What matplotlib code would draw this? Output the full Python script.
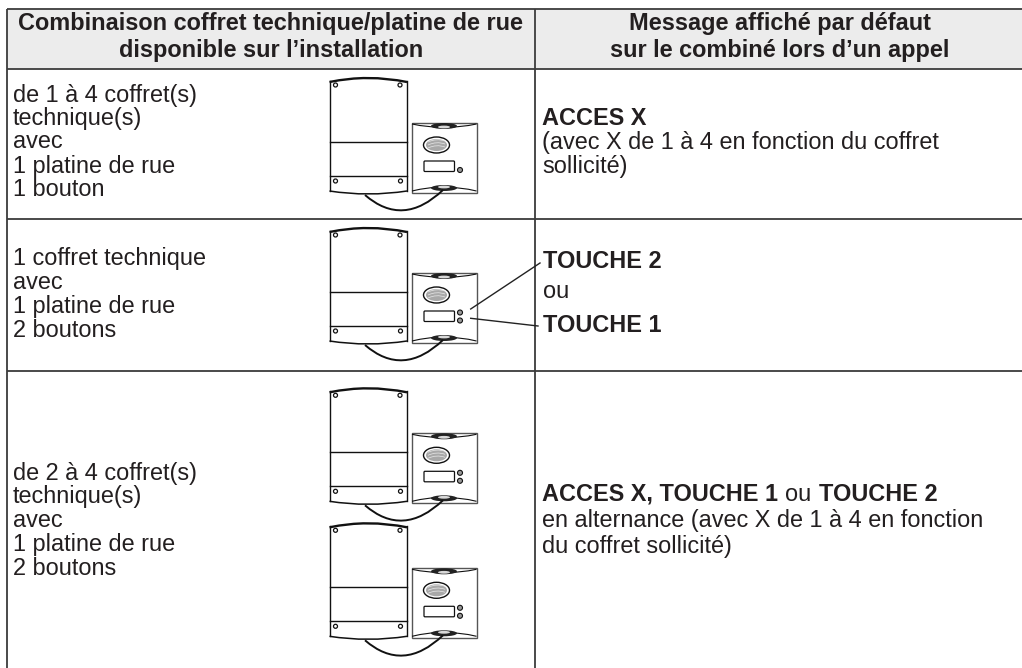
import matplotlib
matplotlib.use("Agg")
import matplotlib.pyplot as plt
from matplotlib.patches import Ellipse, Circle, Rectangle, PathPatch, FancyBboxPatch
from matplotlib.path import Path

headers_left = ["Combinaison coffret technique/platine de rue", "disponible sur l\u2019installation"]
headers_right = ["Message affich\u00e9 par d\u00e9faut", "sur le combin\u00e9 lors d\u2019un appel"]
row1_left = ["de 1 \u00e0 4 coffret(s)", "technique(s)", "avec", "1 platine de rue", "1 bouton"]
row2_left = ["1 coffret technique", "avec", "1 platine de rue", "2 boutons"]
row3_left = ["de 2 \u00e0 4 coffret(s)", "technique(s)", "avec", "1 platine de rue", "2 boutons"]
row1_y = [101.7, 125, 148.5, 172.5, 196]
row2_y = [265, 289, 312.7, 336.7]
row3_y = [480, 503.5, 527, 551, 575]
device_offsets = [0, 150, 310.3, 445.3]
device_buttons = [1, 2, 2, 2]

TXT = "#231f20"
LINE = "#3c3c3c"
plt.rcParams["font.family"] = ["Liberation Sans", "DejaVu Sans"]
FS = 16.9

fig = plt.figure(figsize=(10.22, 6.68), dpi=100)
ax = fig.add_axes([0, 0, 1, 1])
ax.set_xlim(0, 1022)
ax.set_ylim(668, 0)
ax.axis("off")

ax.add_patch(Rectangle((6.5, 8.5), 1015.5, 60, fc="#ececec", ec="none"))
for y in (8.5, 68.5, 219, 370.7):
    ax.plot([6.5, 1022], [y, y], color=LINE, lw=1.3, solid_capstyle="butt")
for x in (6.5, 535):
    ax.plot([x, x], [8.5, 668], color=LINE, lw=1.3, solid_capstyle="butt")


def curve(p0, c, p1, lw=1.0, color="#111111"):
    ax.add_patch(PathPatch(Path([p0, c, p1], [Path.MOVETO, Path.CURVE3, Path.CURVE3]),
                           fc="none", ec=color, lw=lw))


def device(dy, buttons):
    k = "#111111"
    # coffret
    ax.plot([329.5, 329.5], [81 + dy, 191 + dy], color=k, lw=1.0)
    ax.plot([407, 407], [81 + dy, 191 + dy], color=k, lw=1.0)
    curve((329.5, 82 + dy), (368, 74 + dy), (407, 82 + dy), lw=1.7)
    curve((329.5, 191 + dy), (368, 197 + dy), (407, 191 + dy), lw=1.1)
    ax.plot([329.5, 407], [142 + dy, 142 + dy], color=k, lw=1.0)
    ax.plot([329.5, 407], [176 + dy, 176 + dy], color=k, lw=1.0)
    for hx, hy in [(335.5, 85), (400, 85), (335.5, 181), (400.5, 181)]:
        ax.add_patch(Circle((hx, hy + dy), 2.0, fc="white", ec=k, lw=0.9))
    # platine
    ax.add_patch(Rectangle((412, 122.5 + dy), 64.5, 70.5, fc="white", ec="#555555", lw=1.0))
    curve((412, 124 + dy), (444, 131 + dy), (476.5, 124 + dy), lw=0.8)
    curve((412, 191 + dy), (444, 183 + dy), (476.5, 191 + dy), lw=0.8)
    ax.add_patch(Ellipse((444, 126 + dy), 26, 6, fc="#222222", ec="none"))
    ax.add_patch(Ellipse((444, 127 + dy), 12, 2.8, fc="#d8d8d8", ec="none"))
    ax.add_patch(Ellipse((444, 188 + dy), 26, 6, fc="#222222", ec="none"))
    ax.add_patch(Ellipse((444, 187 + dy), 12, 2.8, fc="#d8d8d8", ec="none"))
    # grille du haut-parleur
    ax.add_patch(Ellipse((436.5, 145 + dy), 26, 16, fc="white", ec=k, lw=1.0))
    ax.add_patch(Ellipse((436.5, 145 + dy), 21, 12, fc="#a8a8a8", ec="none"))
    for off in (-3, 0, 3):
        curve((428, 145 + dy + off), (436.5, 141 + dy + off), (445, 144 + dy + off),
              lw=0.5, color="#e8e8e8")
    # ecran
    ax.add_patch(FancyBboxPatch((424, 161 + dy), 30.5, 10.5, boxstyle="round,pad=0,rounding_size=1",
                                fc="white", ec=k, lw=0.9))
    ys = [170] if buttons == 1 else [162.5, 170.5]
    for by in ys:
        ax.add_patch(Circle((460, by + dy), 2.5, fc="#999999", ec=k, lw=0.8))
    # cable
    curve((365, 195 + dy), (403, 228 + dy), (443, 190 + dy), lw=1.4)


for off, nb in zip(device_offsets, device_buttons):
    device(off, nb)

ax.plot([470.7, 540], [309, 263], color="#222222", lw=1.0)
ax.plot([470.7, 538], [318.3, 326], color="#222222", lw=1.0)


def txt(x, y, s, weight="normal", ha="left", color=TXT):
    return ax.text(x, y, s, fontsize=FS, fontweight=weight, ha=ha, va="baseline", color=color)


txt(271, 30, headers_left[0], "bold", "center")
txt(271, 57, headers_left[1], "bold", "center")
txt(780, 30, headers_right[0], "bold", "center")
txt(780, 57, headers_right[1], "bold", "center")
for lines, ys in [(row1_left, row1_y), (row2_left, row2_y), (row3_left, row3_y)]:
    for s, y in zip(lines, ys):
        txt(13, y, s)

txt(542.5, 125, "ACCES X", "bold")
txt(542.5, 149.3, "(avec X de 1 \u00e0 4 en fonction du coffret")
txt(542.5, 172.7, "sollicit\u00e9)")
txt(543, 268, "TOUCHE 2", "bold")
txt(543, 298, "ou")
txt(543, 331.7, "TOUCHE 1", "bold")

t = txt(542.5, 500.7, "ACCES X, TOUCHE 1", "bold")
txt(542.5, 527, "en alternance (avec X de 1 \u00e0 4 en fonction")
txt(542.5, 553.5, "du coffret sollicit\u00e9)")
fig.canvas.draw()
bb = t.get_window_extent().transformed(ax.transData.inverted())
t2 = txt(bb.x1 + 7, 500.7, "ou")
bb2 = t2.get_window_extent().transformed(ax.transData.inverted())
txt(bb2.x1 + 7, 500.7, "TOUCHE 2", "bold")

fig.savefig("out.png", dpi=100)
